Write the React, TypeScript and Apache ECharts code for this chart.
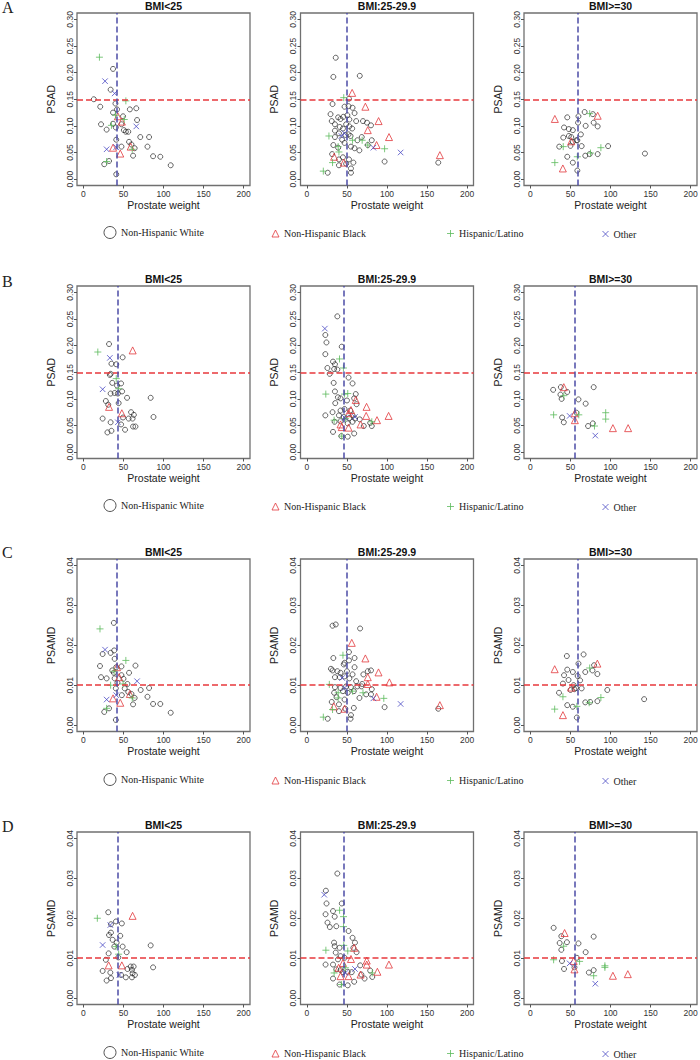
import React, { useEffect, useRef } from "react";
import * as echarts from "echarts";

type Pt = [number, number];

// ---------- labels / ticks ----------
const groupNames = ["Non-Hispanic White", "Non-Hispanic Black", "Hispanic/Latino", "Other"];
const bmiTitles = ["BMI<25", "BMI:25-29.9", "BMI>=30"];
const panelLetters = ["A", "B", "C", "D"];
const yAxisTitles = ["PSAD", "PSAD", "PSAMD", "PSAMD"];
const xAxisTitle = "Prostate weight";
const xTicks = [0, 50, 100, 150, 200];
const psadTicks = [0, 0.05, 0.1, 0.15, 0.2, 0.25, 0.3];
const psamdTicks = [0, 0.01, 0.02, 0.03, 0.04];
const psadCutoff = 0.15;
const psamdCutoff = 0.012;
const medianWeightAC = [41.5, 50, 59];
const medianWeightBD = [42.5, 46, 55.5];

// ---------- data: [prostate weight, value] ----------
const A1_white: Pt[] = [[37,0.207],[34,0.168],[13,0.150],[21,0.136],[37,0.125],[42,0.131],[40,0.142],[58,0.131],[66,0.133],[67,0.111],[22,0.103],[29,0.093],[37,0.104],[40.5,0.097],[49.5,0.118],[47.5,0.103],[50.5,0.092],[53,0.089],[56,0.089],[71,0.079],[82,0.079],[80,0.061],[57,0.070],[60,0.065],[64,0.058],[47.5,0.061],[41,0.074],[62,0.044],[87,0.043],[96,0.042],[109,0.026],[26,0.028],[32,0.034],[41,0.009]];
const A1_black: Pt[] = [[37,0.059],[46,0.048],[43,0.118],[48,0.108],[59,0.061]];
const A1_hisp: Pt[] = [[20,0.229],[53,0.147],[40,0.120],[35,0.101],[51,0.112],[61,0.056],[29,0.033]];
const A1_other: Pt[] = [[27,0.184],[39,0.161],[66,0.099],[29,0.056],[41,0.060]];

const A2_white: Pt[] = [[36,0.228],[33,0.192],[66,0.194],[52.5,0.151],[32,0.141],[29.5,0.122],[47,0.136],[52,0.137],[57,0.134],[59.5,0.124],[39,0.116],[42,0.113],[45.5,0.117],[50.5,0.12],[53,0.112],[61.5,0.109],[70,0.109],[75,0.106],[80,0.101],[31,0.109],[35,0.103],[41,0.098],[45,0.095],[49,0.103],[53,0.099],[56.5,0.095],[35,0.091],[40,0.086],[48,0.083],[52,0.084],[54.5,0.081],[63,0.073],[68.5,0.079],[81,0.073],[35,0.079],[44,0.074],[47,0.068],[33,0.064],[39,0.059],[55,0.061],[59.5,0.058],[65.5,0.054],[76,0.064],[31.5,0.047],[40,0.037],[45,0.041],[52.5,0.037],[40,0.026],[49,0.029],[58,0.031],[55,0.02],[55,0.012],[26,0.012],[97,0.033],[164,0.031]];
const A2_black: Pt[] = [[56.5,0.162],[73,0.136],[89.5,0.109],[76,0.092],[102.5,0.079],[87,0.064],[166,0.045],[34,0.042],[46,0.031]];
const A2_hisp: Pt[] = [[46,0.153],[27.5,0.081],[39,0.061],[40,0.051],[32,0.031],[20.5,0.015],[76,0.064],[69,0.073],[97,0.057],[57,0.073]];
const A2_other: Pt[] = [[43,0.081],[47,0.086],[83,0.059],[117,0.05]];

const A3_white: Pt[] = [[46,0.116],[60,0.118],[67.7,0.126],[78,0.122],[84,0.099],[79,0.106],[69,0.1],[59.5,0.106],[42,0.097],[48,0.094],[53,0.092],[63,0.084],[41,0.078],[48,0.081],[51,0.079],[57.4,0.073],[53,0.07],[58.6,0.073],[36,0.061],[50,0.0625],[64,0.062],[97,0.062],[46,0.042],[68.5,0.044],[74,0.047],[84,0.047],[53,0.031],[58.6,0.016],[143,0.048]];
const A3_black: Pt[] = [[30.5,0.113],[84,0.119],[51,0.071],[40.5,0.02]];
const A3_hisp: Pt[] = [[74,0.123],[41,0.061],[88,0.059],[75,0.049],[58.6,0.042],[30.5,0.031]];
const A3_other: Pt[] = [];

const B1_white: Pt[] = [[32,0.203],[49,0.178],[35,0.166],[41,0.165],[34,0.147],[33,0.145],[36,0.13],[47,0.129],[42,0.125],[48.3,0.114],[34,0.11],[39,0.111],[43,0.11],[54.5,0.102],[84,0.102],[28,0.096],[31,0.089],[44,0.092],[59.5,0.075],[63,0.07],[56.5,0.063],[61.4,0.063],[49.5,0.065],[87.5,0.066],[24,0.063],[34,0.056],[47,0.052],[52,0.042],[62,0.048],[65,0.048],[30,0.037],[35,0.04]];
const B1_black: Pt[] = [[61.5,0.191],[32,0.085],[48,0.073]];
const B1_hisp: Pt[] = [[18,0.188],[41,0.138],[44,0.119]];
const B1_other: Pt[] = [[33,0.177],[24,0.118],[43,0.056]];

const B2_white: Pt[] = [[38,0.255],[23,0.22],[24.4,0.206],[43.5,0.198],[23,0.184],[32.6,0.17],[35,0.165],[25.6,0.158],[34,0.156],[38,0.155],[28.5,0.147],[52,0.14],[33.4,0.13],[57,0.129],[35,0.114],[38.7,0.103],[42,0.101],[35.4,0.092],[50,0.097],[59,0.101],[61,0.109],[62,0.09],[23,0.069],[32,0.075],[42,0.078],[47,0.081],[54,0.078],[40,0.069],[46,0.066],[53,0.064],[57,0.069],[60,0.063],[66,0.0615],[34.6,0.057],[42,0.058],[51,0.054],[57,0.057],[71,0.049],[79,0.055],[81,0.049],[32.6,0.038],[43,0.03],[51,0.029],[59,0.035]];
const B2_black: Pt[] = [[55,0.079],[52,0.073],[74.5,0.085],[74,0.068],[87.5,0.06],[102,0.068],[42,0.052],[52,0.046],[67,0.052],[43.5,0.047],[61,0.098]];
const B2_hisp: Pt[] = [[40.7,0.175],[45.6,0.158],[23.6,0.109],[47,0.109],[51,0.11],[34,0.06],[48,0.063],[81,0.057],[43.5,0.03]];
const B2_other: Pt[] = [[22.4,0.232],[60,0.066],[47,0.065]];

const B3_white: Pt[] = [[28.4,0.117],[38,0.122],[37.5,0.108],[39,0.1],[46,0.113],[60,0.099],[69,0.091],[79,0.122],[39.6,0.065],[41.7,0.056],[57.5,0.074],[72,0.049],[78,0.054]];
const B3_black: Pt[] = [[41.7,0.122],[55.5,0.073],[55.5,0.06],[103,0.045],[122,0.045]];
const B3_hisp: Pt[] = [[29,0.07],[41.7,0.106],[60.4,0.07],[94,0.074],[94,0.062],[80,0.049]];
const B3_other: Pt[] = [[49,0.068],[81,0.031]];

const C1_white: Pt[] = [[38,0.0256],[20.7,0.0148],[22,0.012],[24,0.0178],[34,0.0181],[38.4,0.0187],[39,0.0166],[41,0.0145],[36,0.0137],[38,0.0131],[47.5,0.0147],[57,0.0131],[65,0.0149],[29,0.0117],[39,0.0117],[47.5,0.0125],[50,0.0116],[55,0.0103],[42.5,0.0106],[40.5,0.0092],[51.6,0.0092],[56,0.0083],[71.5,0.0088],[82,0.0093],[80,0.0071],[60,0.0078],[64,0.0068],[48,0.0075],[62,0.0052],[87,0.0053],[96,0.0053],[109,0.0031],[26,0.0033],[32,0.0042],[40.5,0.0013]];
const C1_black: Pt[] = [[37,0.0067],[46,0.0056],[42,0.0145],[44.6,0.012],[58,0.0078]];
const C1_hisp: Pt[] = [[20.7,0.0241],[53,0.0162],[38.4,0.0135],[34,0.01],[49.6,0.0103],[61,0.0068],[29,0.0042]];
const C1_other: Pt[] = [[27,0.0189],[29,0.0064],[67,0.011],[41,0.0075]];

const C2_white: Pt[] = [[32,0.0249],[36,0.0252],[66.4,0.0242],[52.5,0.0183],[59.5,0.0168],[33,0.0168],[47,0.0156],[46,0.0152],[52.5,0.0162],[59.5,0.0145],[30,0.0141],[32,0.0137],[38,0.0135],[42,0.0131],[50,0.0135],[57,0.0127],[70.5,0.0127],[76,0.0135],[80,0.0137],[35,0.012],[41,0.012],[47,0.0122],[53,0.0117],[61.5,0.011],[69,0.0103],[35,0.0095],[42,0.0093],[49,0.0097],[55,0.0095],[63,0.0097],[68,0.0097],[81,0.009],[34,0.0081],[45,0.0085],[51,0.0081],[58.6,0.0085],[65.6,0.0068],[74,0.0077],[80,0.0077],[37,0.007],[47,0.0064],[31,0.0058],[40,0.0052],[48,0.0041],[58.6,0.0043],[40,0.0035],[55,0.0025],[54.5,0.0016],[26,0.0016],[97,0.0045],[164,0.0041]];
const C2_black: Pt[] = [[56,0.0206],[73,0.0167],[89.4,0.0132],[103,0.0107],[76,0.0103],[76,0.012],[87,0.0071],[166,0.005],[33.6,0.0047],[47,0.0041]];
const C2_hisp: Pt[] = [[45,0.0175],[28,0.0102],[39,0.0068],[32,0.0039],[20.5,0.002],[96,0.0067],[70,0.0081],[57,0.0085],[39,0.0081]];
const C2_other: Pt[] = [[44,0.0118],[47,0.0093],[83,0.0067],[117,0.0053]];

const C3_white: Pt[] = [[45.5,0.0173],[66.4,0.0177],[60,0.0154],[79.5,0.015],[77.5,0.0137],[83.6,0.0128],[46,0.0139],[53,0.0133],[68.5,0.0133],[42,0.0125],[59,0.0123],[47.6,0.0113],[62,0.0112],[40.6,0.0104],[54,0.01],[50,0.0088],[55,0.009],[57,0.0093],[64,0.0092],[35.7,0.0081],[96,0.0088],[46,0.005],[53,0.0046],[68.5,0.0057],[74.6,0.0058],[83.6,0.006],[58,0.0019],[142,0.0065]];
const C3_black: Pt[] = [[30.3,0.014],[83.6,0.0154],[51,0.0094],[40.6,0.0025]];
const C3_hisp: Pt[] = [[74,0.0143],[40.6,0.0071],[88,0.0069],[73.4,0.0056],[58,0.0047],[30.3,0.004]];
const C3_other: Pt[] = [];

const D1_white: Pt[] = [[31,0.0215],[40.7,0.0192],[48,0.0187],[34.4,0.0185],[34.4,0.0164],[32,0.0158],[46,0.0156],[36.5,0.0146],[41.5,0.0139],[38.6,0.0129],[49,0.0129],[84,0.0132],[31.5,0.0112],[43.6,0.0102],[54,0.0115],[28,0.0096],[24,0.0068],[33.6,0.0064],[47,0.0058],[53,0.0052],[29,0.0044],[34.4,0.005],[55,0.0073],[59,0.0079],[62.7,0.0079],[60.6,0.0071],[61.4,0.0062],[64.3,0.0058],[60.6,0.0052],[87,0.0077]];
const D1_black: Pt[] = [[61.4,0.0206],[31.5,0.0082],[48,0.0082]];
const D1_hisp: Pt[] = [[17.4,0.02],[40.7,0.0129],[44,0.011]];
const D1_other: Pt[] = [[33.6,0.0183],[24,0.0133],[45,0.0058]];

const D2_white: Pt[] = [[38,0.0312],[23.7,0.0269],[24.5,0.0237],[43.6,0.0237],[23.3,0.021],[32.6,0.0218],[34.7,0.0204],[25.7,0.0189],[28.6,0.0178],[36.7,0.018],[52,0.0168],[57,0.0151],[60,0.0139],[33.9,0.0139],[34.7,0.013],[40.8,0.0126],[58,0.0126],[62,0.0115],[36,0.0114],[42,0.0105],[38.8,0.0097],[47,0.0101],[23.3,0.0084],[32.6,0.0084],[36.7,0.0072],[42,0.007],[45,0.0065],[51,0.0066],[56,0.0065],[66.5,0.0082],[68,0.0059],[72,0.0049],[79,0.0069],[81.6,0.0053],[32.6,0.0049],[40.8,0.0034],[51,0.0032],[59,0.0041]];
const D2_black: Pt[] = [[55,0.0098],[45,0.0088],[74.7,0.0094],[74.7,0.0084],[88,0.0066],[102.4,0.0084],[39.6,0.0076],[52,0.0055],[42,0.0055],[67,0.0059],[59,0.0126]];
const D2_hisp: Pt[] = [[40.8,0.022],[45.7,0.0179],[45.7,0.0204],[23.7,0.012],[46,0.0132],[51,0.0118],[34,0.0063],[48,0.0076],[81.6,0.0063],[43,0.0034]];
const D2_other: Pt[] = [[21.6,0.0259],[60,0.0073],[48,0.0063]];

const D3_white: Pt[] = [[29,0.0176],[38.6,0.0155],[79,0.0154],[36.5,0.0138],[45.6,0.014],[60,0.0137],[38.6,0.0121],[69,0.0115],[58,0.0101],[39.4,0.0093],[42,0.0073],[73,0.0064],[79,0.007],[55,0.0077]];
const D3_black: Pt[] = [[42.7,0.0163],[54,0.0093],[55,0.0072],[103,0.0056],[121.6,0.006]];
const D3_hisp: Pt[] = [[29,0.0096],[41.5,0.013],[61.4,0.0092],[93,0.0081],[93,0.0077],[79,0.0056]];
const D3_other: Pt[] = [[49,0.0087],[81,0.0036]];

const panelData: Pt[][][] = [
  [A1_white, A1_black, A1_hisp, A1_other],
  [A2_white, A2_black, A2_hisp, A2_other],
  [A3_white, A3_black, A3_hisp, A3_other],
  [B1_white, B1_black, B1_hisp, B1_other],
  [B2_white, B2_black, B2_hisp, B2_other],
  [B3_white, B3_black, B3_hisp, B3_other],
  [C1_white, C1_black, C1_hisp, C1_other],
  [C2_white, C2_black, C2_hisp, C2_other],
  [C3_white, C3_black, C3_hisp, C3_other],
  [D1_white, D1_black, D1_hisp, D1_other],
  [D2_white, D2_black, D2_hisp, D2_other],
  [D3_white, D3_black, D3_hisp, D3_other],
];

// ---------- styling ----------
const SANS = "'Liberation Sans', Arial, Helvetica, sans-serif";
const SERIF = "'Liberation Serif', 'Times New Roman', serif";
const groupColors = ["#2a2a2a", "#e2383c", "#5cba5c", "#4b4bc4"];
const plusPath = "path://M5,0L5,10M0,5L10,5";
const crossPath = "path://M0,0L10,10M10,0L0,10";
const groupSymbols = ["circle", "triangle", plusPath, crossPath];
const groupSizes = [5, 7, 7, 5.5];
const redLine = "#e8383d";
const blueLine = "#4c4ca6";

const colLeft = [77, 300.5, 524];
const rowTop = [13, 286, 559, 832];
const gridW = 173;
const gridH = 172.5;
const legendRowY = [232, 505, 779, 1052];
const legendIconX = [103.5, 271.5, 446.5, 602];
const legendIconSize = [12, 7, 7, 6];
const letterY = [7.5, 281, 552.5, 826];

function buildOption() {
  const grids: any[] = [];
  const xAxes: any[] = [];
  const yAxes: any[] = [];
  const series: any[] = [];
  const graphics: any[] = [];

  panelData.forEach((groups, i) => {
    const row = Math.floor(i / 3);
    const col = i % 3;
    const isPsad = row < 2;
    const ticks = isPsad ? psadTicks : psamdTicks;
    const top = isPsad ? 0.3 : 0.04;
    const cutoff = isPsad ? psadCutoff : psamdCutoff;
    const median = row === 0 || row === 2 ? medianWeightAC[col] : medianWeightBD[col];

    grids.push({
      left: colLeft[col],
      top: rowTop[row],
      width: gridW,
      height: gridH,
      show: true,
      borderColor: "#707070",
      borderWidth: 1.3,
      backgroundColor: "transparent",
      containLabel: false,
      outerBoundsMode: "none",
    });

    xAxes.push({
      type: "value",
      gridIndex: i,
      min: -8,
      max: 208,
      name: xAxisTitle,
      nameLocation: "middle",
      nameGap: 13,
      nameTextStyle: { fontFamily: SANS, fontSize: 10.5, color: "#222" },
      axisLine: { show: false, onZero: false },
      axisTick: { show: true, length: 3, lineStyle: { color: "#555", width: 1 }, customValues: xTicks },
      axisLabel: {
        fontFamily: SANS,
        fontSize: 8.5,
        color: "#333",
        margin: 4,
        customValues: xTicks,
        hideOverlap: false,
      },
      splitLine: { show: false },
    });

    yAxes.push({
      type: "value",
      gridIndex: i,
      min: -top * 0.04,
      max: top * 1.04,
      name: yAxisTitles[row],
      nameLocation: "middle",
      nameGap: 21,
      nameRotate: 90,
      nameTextStyle: { fontFamily: SANS, fontSize: 10.5, color: "#222" },
      axisLine: { show: false, onZero: false },
      axisTick: { show: true, length: 3, lineStyle: { color: "#555", width: 1 }, customValues: ticks },
      axisLabel: {
        fontFamily: SANS,
        fontSize: 8.5,
        color: "#333",
        margin: 3,
        rotate: 90,
        align: "center",
        verticalAlign: "bottom",
        customValues: ticks,
        hideOverlap: false,
        formatter: (v: number) => v.toFixed(2),
      },
      splitLine: { show: false },
    });

    groups.forEach((pts, g) => {
      const s: any = {
        type: "scatter",
        name: groupNames[g],
        xAxisIndex: i,
        yAxisIndex: i,
        data: pts,
        symbol: groupSymbols[g],
        symbolSize: groupSizes[g],
        itemStyle: { color: "rgba(0,0,0,0)", borderColor: groupColors[g], borderWidth: g === 0 ? 0.9 : 1 },
        emphasis: { disabled: true },
        silent: true,
        z: 2,
      };
      if (g === 0) {
        s.markLine = {
          silent: true,
          symbol: ["none", "none"],
          label: { show: false },
          animation: false,
          data: [
            { yAxis: cutoff, lineStyle: { color: redLine, type: [6, 3], width: 1.5 } },
            { xAxis: median, lineStyle: { color: blueLine, type: [6, 3], width: 1.5 } },
          ],
        };
      }
      series.push(s);
    });

    graphics.push({
      type: "text",
      x: colLeft[col] + gridW / 2,
      y: rowTop[row] - 7.5,
      style: {
        text: bmiTitles[col],
        font: `bold 10.5px ${SANS}`,
        fill: "#111",
        align: "center",
        verticalAlign: "middle",
        textAlign: "center",
        textVerticalAlign: "middle",
      },
    });
  });

  panelLetters.forEach((L, r) => {
    graphics.push({
      type: "text",
      x: 2,
      y: letterY[r],
      style: {
        text: L,
        font: `16px ${SERIF}`,
        fill: "#222",
        align: "left",
        verticalAlign: "middle",
        textAlign: "left",
        textVerticalAlign: "middle",
      },
    });
  });

  const legends: any[] = [];
  legendRowY.forEach((yc) => {
    groupNames.forEach((name, g) => {
      const sz = legendIconSize[g];
      legends.push({
        left: legendIconX[g],
        top: yc - sz / 2,
        padding: 0,
        itemGap: 0,
        selectedMode: false,
        itemWidth: sz,
        itemHeight: sz,
        textStyle: { fontFamily: SERIF, fontSize: 10, color: "#222" },
        data: [
          {
            name,
            icon: groupSymbols[g],
            itemStyle: { color: "rgba(0,0,0,0)", borderColor: groupColors[g], borderWidth: 1 },
          },
        ],
      });
    });
  });

  return {
    animation: false,
    backgroundColor: "#ffffff",
    grid: grids,
    xAxis: xAxes,
    yAxis: yAxes,
    series,
    legend: legends,
    graphic: graphics,
  };
}

export default function App() {
  const ref = useRef<HTMLDivElement>(null);
  useEffect(() => {
    document.body.style.margin = "0";
    if (!ref.current) return;
    const chart = echarts.init(ref.current, undefined, { renderer: "svg" });
    chart.setOption(buildOption() as any);
    return () => chart.dispose();
  }, []);
  return <div ref={ref} style={{ width: 700, height: 1060 }} />;
}
